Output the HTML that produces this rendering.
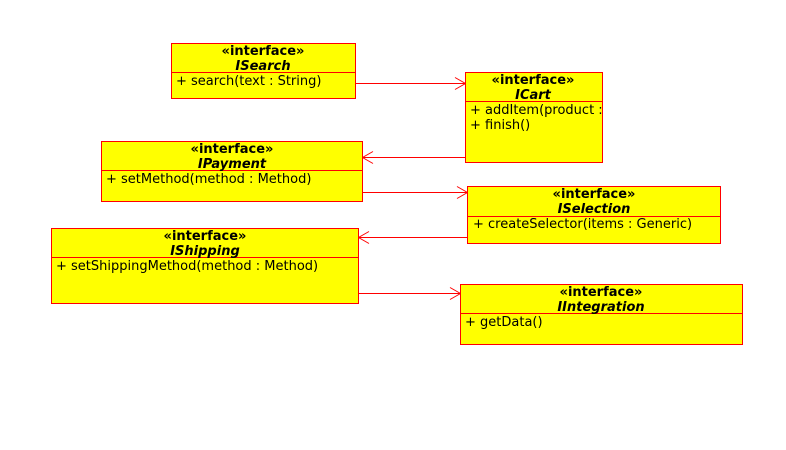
<!DOCTYPE html>
<html><head><meta charset="utf-8"><style>
html,body{margin:0;padding:0;background:#fff;width:786px;height:450px;overflow:hidden}
svg{display:block}
text{font-family:"DejaVu Sans","Liberation Sans",sans-serif;font-size:13px;fill:#000}
.st{font-weight:bold}
.nm{font-weight:bold;font-style:italic}
.box{fill:#ffff00;stroke:#ff0000;stroke-width:1}
.ln{stroke:#ff0000;stroke-width:1;fill:none}
</style></head><body>
<svg width="786" height="450" viewBox="0 0 786 450" xmlns="http://www.w3.org/2000/svg">
<defs>
<clipPath id="cc"><rect x="465" y="72" width="137" height="90"/></clipPath>
</defs>
<!-- connectors -->
<g class="ln">
<path d="M355.5 83.5H465.5M455 77.5L465.5 83.5L455 89.5"/>
<path d="M465.5 157.5H362.5M373 151.5L362.5 157.5L373 163.5"/>
<path d="M362.5 192.5H467.5M457 186.5L467.5 192.5L457 198.5"/>
<path d="M467.5 237.5H358.5M369 231.5L358.5 237.5L369 243.5"/>
<path d="M358.5 293.5H460.5M450 287.5L460.5 293.5L450 299.5"/>
</g>
<!-- ISearch -->
<rect class="box" x="171.5" y="43.5" width="184" height="55"/>
<line class="ln" x1="171.5" y1="72.5" x2="355.5" y2="72.5"/>
<text class="st" x="263" y="55" text-anchor="middle">«interface»</text>
<text class="nm" x="263" y="70" text-anchor="middle">ISearch</text>
<text x="176" y="85">+ search(text : String)</text>
<!-- ICart -->
<rect class="box" x="465.5" y="72.5" width="137" height="90"/>
<line class="ln" x1="465.5" y1="101.5" x2="602.5" y2="101.5"/>
<text class="st" x="533" y="84" text-anchor="middle">«interface»</text>
<text class="nm" x="533" y="99" text-anchor="middle">ICart</text>
<g clip-path="url(#cc)">
<text x="470" y="114">+ addItem(product : Product)</text>
<text x="470" y="129">+ finish()</text>
</g>
<!-- IPayment -->
<rect class="box" x="101.5" y="141.5" width="261" height="60"/>
<line class="ln" x1="101.5" y1="170.5" x2="362.5" y2="170.5"/>
<text class="st" x="232" y="153" text-anchor="middle">«interface»</text>
<text class="nm" x="232" y="168" text-anchor="middle">IPayment</text>
<text x="106" y="183">+ setMethod(method : Method)</text>
<!-- ISelection -->
<rect class="box" x="467.5" y="186.5" width="253" height="57"/>
<line class="ln" x1="467.5" y1="216.5" x2="720.5" y2="216.5"/>
<text class="st" x="594" y="198" text-anchor="middle">«interface»</text>
<text class="nm" x="594" y="213" text-anchor="middle">ISelection</text>
<text x="473" y="228">+ createSelector(items : Generic)</text>
<!-- IShipping -->
<rect class="box" x="51.5" y="228.5" width="307" height="75"/>
<line class="ln" x1="51.5" y1="257.5" x2="358.5" y2="257.5"/>
<text class="st" x="205" y="240" text-anchor="middle">«interface»</text>
<text class="nm" x="205" y="255" text-anchor="middle">IShipping</text>
<text x="56" y="270">+ setShippingMethod(method : Method)</text>
<!-- IIntegration -->
<rect class="box" x="460.5" y="284.5" width="282" height="60"/>
<line class="ln" x1="460.5" y1="313.5" x2="742.5" y2="313.5"/>
<text class="st" x="601" y="296" text-anchor="middle">«interface»</text>
<text class="nm" x="601" y="311" text-anchor="middle">IIntegration</text>
<text x="465" y="326">+ getData()</text>
</svg>
</body></html>
